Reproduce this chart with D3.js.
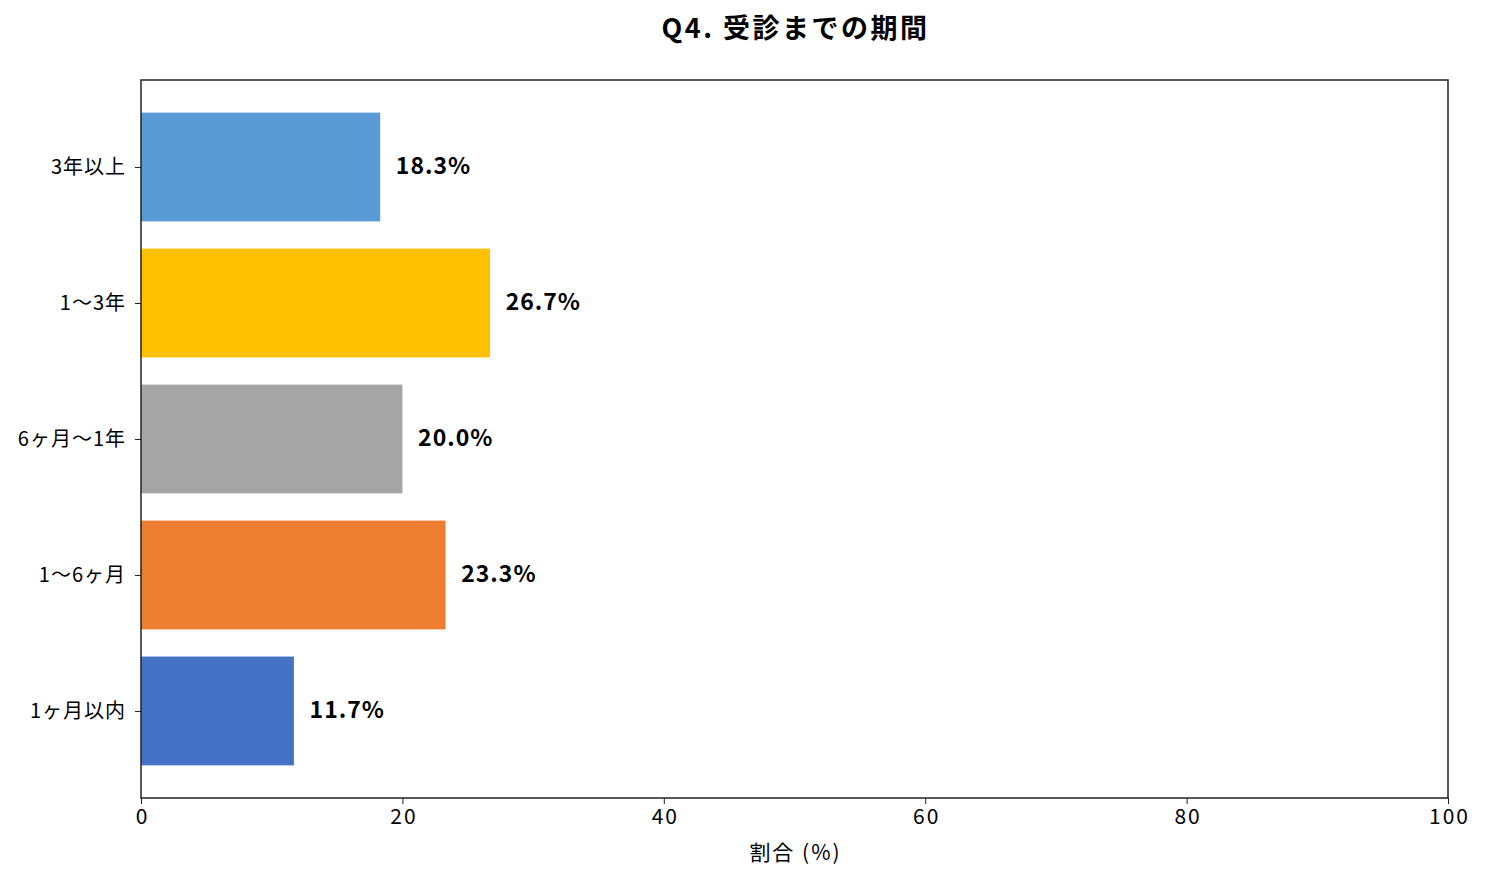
<!DOCTYPE html>
<html>
<head>
<meta charset="utf-8">
<script src="https://cdn.jsdelivr.net/npm/d3@7"></script>
<style>
  body { margin: 0; background: #fff; }
  svg text { font-family: "Noto Sans CJK JP", "Noto Sans", sans-serif; fill: #000; }
</style>
</head>
<body>
<div id="myPlot"></div>
<script>
// Data (bottom to top, as in the chart)
const categories = ["1ヶ月以内", "1〜6ヶ月", "6ヶ月〜1年", "1〜3年", "3年以上"];
const values = [11.7, 23.3, 20.0, 26.7, 18.3];
const colors = ["#4472C4", "#ED7D31", "#A5A5A5", "#FFC000", "#5B9BD5"];
const xTicks = [0, 20, 40, 60, 80, 100];

const width = 1485, height = 881;
const plot = { left: 141, right: 1448, top: 80, bottom: 798 };

const svg = d3.select("#myPlot")
  .append("svg")
  .attr("width", width)
  .attr("height", height);

const x = d3.scaleLinear()
  .domain([0, 100])
  .range([plot.left, plot.right]);

// matplotlib-like y limits: bars at 0..4 with height 0.8 and 5% margin
const y = d3.scaleLinear()
  .domain([-0.64, 4.64])
  .range([plot.bottom, plot.top]);

const barH = 0.8;

// Bars
svg.append("g")
  .selectAll("rect")
  .data(values).enter()
  .append("rect")
  .attr("x", x(0))
  .attr("y", function (d, i) { return y(i + barH / 2); })
  .attr("width", function (d) { return x(d) - x(0); })
  .attr("height", function (d, i) { return y(i - barH / 2) - y(i + barH / 2); })
  .style("fill", function (d, i) { return colors[i]; });

// Value labels
svg.append("g")
  .selectAll("text")
  .data(values).enter()
  .append("text")
  .attr("x", function (d) { return x(d + 1.2); })
  .attr("y", function (d, i) { return y(i); })
  .attr("dy", "0.3em")
  .style("font-size", "23px")
  .style("font-weight", "bold")
  .style("letter-spacing", "1px")
  .text(function (d) { return d.toFixed(1) + "%"; });

// X axis
const xAxis = svg.append("g")
  .attr("transform", "translate(0," + plot.bottom + ")")
  .call(d3.axisBottom(x).tickValues(xTicks).tickSize(6).tickPadding(5));
xAxis.select(".domain").remove();
xAxis.selectAll("line").style("stroke", "#222");
xAxis.selectAll("text")
  .style("font-size", "21px")
  .style("letter-spacing", "2px")
  .attr("dx", "1px");

// Y axis
const yAxis = svg.append("g")
  .attr("transform", "translate(" + plot.left + ",0)")
  .call(d3.axisLeft(y)
    .tickValues(d3.range(categories.length))
    .tickFormat(function (i) { return categories[i]; })
    .tickSize(6).tickPadding(9));
yAxis.select(".domain").remove();
yAxis.selectAll("line").style("stroke", "#222");
yAxis.selectAll("text")
  .style("font-size", "20px")
  .style("letter-spacing", "1px");

// Frame
svg.append("rect")
  .attr("x", plot.left)
  .attr("y", plot.top)
  .attr("width", plot.right - plot.left)
  .attr("height", plot.bottom - plot.top)
  .style("fill", "none")
  .style("stroke", "#222")
  .style("stroke-width", 1.5);

// Axis label
svg.append("text")
  .attr("x", (plot.left + plot.right) / 2 + 1)
  .attr("y", 860)
  .attr("text-anchor", "middle")
  .style("font-size", "21px")
  .style("letter-spacing", "2px")
  .text("割合 (%)");

// Title
svg.append("text")
  .attr("x", (plot.left + plot.right) / 2 + 1)
  .attr("y", 38)
  .attr("text-anchor", "middle")
  .style("font-size", "27px")
  .style("font-weight", "bold")
  .style("letter-spacing", "2.5px")
  .text("Q4. 受診までの期間");
</script>
</body>
</html>
